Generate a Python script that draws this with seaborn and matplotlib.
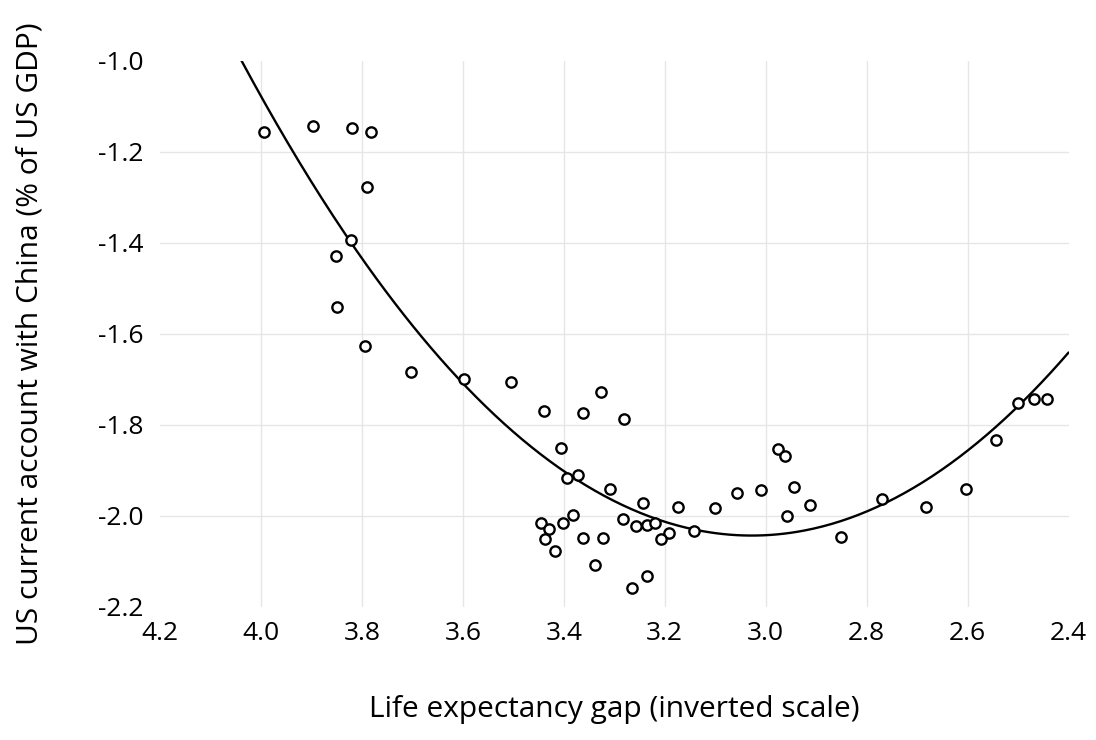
import numpy as np
import pandas as pd
import matplotlib
matplotlib.use("Agg")
import matplotlib.pyplot as plt
import seaborn as sns

# Life expectancy gap (x) and US current account balance with China (y)
gap = [
    3.994, 3.896, 3.820, 3.783, 3.790, 3.822, 3.852, 3.849, 3.793, 3.702,
    3.598, 3.504, 3.326, 3.440, 3.362, 3.281, 3.405, 3.394, 3.372, 3.309,
    3.244, 3.174, 3.101, 3.056, 3.382, 3.445, 3.401, 3.429, 3.438, 3.418,
    3.362, 3.322, 3.338, 3.265, 3.235, 3.282, 3.257, 3.236, 3.219, 3.192,
    3.207, 3.143, 3.009, 2.976, 2.962, 2.945, 2.957, 2.913, 2.851, 2.770,
    2.682, 2.603, 2.543, 2.500, 2.468, 2.443,
]
current_account = [
    -1.156, -1.144, -1.149, -1.156, -1.278, -1.393, -1.430, -1.542, -1.626, -1.685,
    -1.700, -1.705, -1.729, -1.769, -1.774, -1.788, -1.852, -1.918, -1.910, -1.941,
    -1.973, -1.980, -1.982, -1.951, -1.998, -2.016, -2.015, -2.028, -2.052, -2.078,
    -2.048, -2.049, -2.109, -2.158, -2.132, -2.007, -2.023, -2.021, -2.015, -2.037,
    -2.050, -2.034, -1.944, -1.853, -1.868, -1.936, -2.001, -1.977, -2.047, -1.963,
    -1.980, -1.942, -1.834, -1.752, -1.743, -1.744,
]
x_ticks = [4.2, 4.0, 3.8, 3.6, 3.4, 3.2, 3.0, 2.8, 2.6, 2.4]
y_ticks = [-2.2, -2.0, -1.8, -1.6, -1.4, -1.2, -1.0]

df = pd.DataFrame({"gap": gap, "ca": current_account})

sns.set_theme(style="white")
plt.rcParams["font.family"] = ["Open Sans", "DejaVu Sans"]

fig = plt.figure(figsize=(10.96, 7.40), dpi=100)
ax = fig.add_axes([0.146, 0.180, 0.829, 0.738])

# Second-order polynomial trend line
coef = np.polyfit(df["gap"], df["ca"], 2)
xs = np.linspace(2.4, 4.2, 400)
trend = pd.DataFrame({"gap": xs, "ca": np.polyval(coef, xs)})
sns.lineplot(data=trend, x="gap", y="ca", ax=ax, color="black", linewidth=1.7, zorder=2)

sns.scatterplot(data=df, x="gap", y="ca", ax=ax, s=55, facecolor="white",
                edgecolor="black", linewidth=1.7, zorder=3)

ax.set_xlim(4.2, 2.4)
ax.set_ylim(-2.2, -1.0)
ax.set_xticks(x_ticks)
ax.set_yticks(y_ticks)
ax.set_xticklabels([f"{v:.1f}" for v in x_ticks])
ax.set_yticklabels([f"{v:.1f}" for v in y_ticks])
ax.tick_params(axis="both", length=0, labelsize=19, colors="black")
ax.tick_params(axis="x", pad=10)
ax.tick_params(axis="y", pad=12)

ax.grid(True, color="#e6e6e6", linewidth=1.0)
# keep only the interior grid lines
for lines in (ax.xaxis.get_gridlines(), ax.yaxis.get_gridlines()):
    lines[0].set_visible(False)
    lines[-1].set_visible(False)
ax.set_axisbelow(True)

for sp in ax.spines.values():
    sp.set_visible(False)

ax.set_xlabel("Life expectancy gap (inverted scale)", fontsize=21.5, color="black")
ax.set_ylabel("US current account with China (% of US GDP)", fontsize=21.5,
              color="black")
ax.xaxis.set_label_coords(0.5, -0.2015)
ax.xaxis.label.set_va("baseline")
ax.yaxis.set_label_coords(-0.1353, 0.5)
ax.yaxis.label.set_va("baseline")

fig.savefig("out.png", dpi=100, facecolor="white")
